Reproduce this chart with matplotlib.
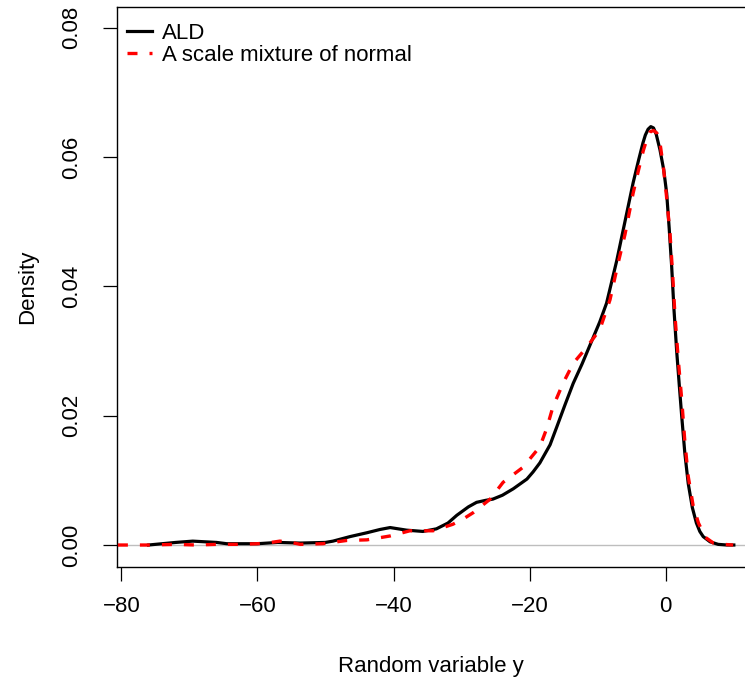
import matplotlib.pyplot as plt

# ALD density (black, solid)
ald_x = [-76, -72, -69.5, -66, -64.5, -60, -57, -53.7, -50, -48.9, -46.4, -43.9, -42, -40.5,
         -38.1, -35.7, -33.7, -32, -30.7, -29, -27.8, -26.5, -25.4, -24, -22.4, -20.4, -19.5,
         -18.5, -17, -16, -14.8, -13.6, -12.3, -11.1, -9.7, -8.7, -7.2, -6, -4.8, -4, -3.35,
         -3.0, -2.6, -2.2, -1.8, -1.4, -0.85, -0.3, 0.13, 0.5, 0.87, 1.2, 1.6, 2.0, 2.35, 2.8,
         3.3, 3.9, 4.5, 5.0, 5.5, 6.5, 7.7, 9.0, 10.0]
ald_y = [0.0, 0.0004, 0.0006, 0.0004, 0.0002, 0.0002, 0.0004, 0.0003, 0.0004, 0.0006, 0.0013,
         0.0019, 0.0024, 0.0027, 0.0023, 0.0021, 0.0025, 0.0034, 0.0046, 0.0059, 0.0066, 0.0069,
         0.0071, 0.0077, 0.0087, 0.0102, 0.0113, 0.0127, 0.0155, 0.0183, 0.0217, 0.025, 0.028,
         0.031, 0.0345, 0.0374, 0.044, 0.050, 0.056, 0.0595, 0.0622, 0.0634, 0.0643, 0.0647,
         0.0645, 0.0635, 0.0611, 0.058, 0.0544, 0.049, 0.043, 0.0365, 0.030, 0.0245, 0.0198,
         0.0142, 0.0095, 0.0058, 0.0034, 0.0021, 0.0013, 0.0005, 0.0001, 0.0, 0.0]

# scale mixture of normal (red, dashed)
smn_x = [-80.5, -76, -72, -69, -66, -63, -60, -58, -56.7, -55, -53.7, -50.4, -46.9, -43.9,
         -40.5, -37.6, -34.2, -31.3, -29.5, -28.3, -25.8, -23.9, -21, -18.5, -17.5, -16.6,
         -15.1, -13.6, -11.6, -9.7, -8.2, -7.0, -6, -4.8, -4, -3.3, -2.8, -2.3, -1.8, -1.3,
         -0.8, -0.36, 0.1, 0.62, 1.0, 1.36, 1.85, 2.35, 2.8, 3.3, 4.0, 4.8, 5.8, 7.0, 8.5, 9.9]
smn_y = [0.0, 0.0, 0.0001, 0.0, 0.0001, 0.0001, 0.0002, 0.0004, 0.0006, 0.0004, 0.0001,
         0.0002, 0.0007, 0.0008, 0.0014, 0.0022, 0.0022, 0.0032, 0.0042, 0.005, 0.0071,
         0.0097, 0.012, 0.0152, 0.018, 0.0213, 0.025, 0.0281, 0.0306, 0.0333, 0.0379, 0.0436,
         0.048, 0.0544, 0.058, 0.061, 0.0627, 0.0639, 0.0641, 0.0637, 0.0618, 0.0585, 0.054,
         0.0482, 0.042, 0.0353, 0.0285, 0.0224, 0.016, 0.0106, 0.0062, 0.0034, 0.0012, 0.0003,
         0.0001, 0.0]

x_ticks = [-80, -60, -40, -20, 0]
y_ticks = [0.00, 0.02, 0.04, 0.06, 0.08]
y_tick_labels = ["0.00", "0.02", "0.04", "0.06", "0.08"]

plt.rcParams['font.family'] = ['Liberation Sans', 'DejaVu Sans']
plt.rcParams['font.size'] = 16

fig = plt.figure(figsize=(7.45, 6.77), dpi=100)
ax = fig.add_axes([117 / 745, 110 / 677, 628 / 745, 560 / 677])

ax.axhline(0, color='#bebebe', lw=1, zorder=1)
ax.plot(ald_x, ald_y, color='black', lw=2.3, label='ALD', zorder=3,
        solid_joinstyle='round')
ax.plot(smn_x, smn_y, color='red', lw=2.4, dashes=(3.0, 3.6),
        label='A scale mixture of normal', zorder=4)

ax.set_xlim(-80.63, 11.64)
ax.set_ylim(-0.0034, 0.0832)
ax.set_xticks(x_ticks)
ax.set_yticks(y_ticks)
ax.set_yticklabels(y_tick_labels, rotation=90, va='center')
ax.tick_params(length=10, width=0.9, color='black', labelsize=16)
ax.tick_params(axis='x', pad=11)
ax.tick_params(axis='y', pad=15)

for s in ['left', 'bottom', 'top']:
    ax.spines[s].set_linewidth(1.0)
ax.spines['right'].set_visible(False)

ax.set_xlabel('Random variable y', fontsize=16, labelpad=28)
ax.set_ylabel('Density', fontsize=16, labelpad=17)

ax.legend(loc='upper left', bbox_to_anchor=(0.016, 1 - 16 / 560), frameon=False,
          borderaxespad=0, borderpad=0, handlelength=1.13, handletextpad=0.45,
          labelspacing=0.05, fontsize=16)

fig.savefig('out.png', dpi=100)
